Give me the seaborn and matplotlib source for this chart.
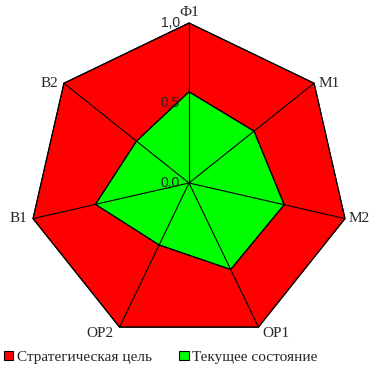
import numpy as np
import pandas as pd
import matplotlib
matplotlib.use("Agg")
import matplotlib.pyplot as plt
import seaborn as sns

# axes of the radar, clockwise from the top
categories = ["Ф1", "М1", "М2", "ОР1", "ОР2", "В1", "В2"]
target_values = [1.0, 1.0, 1.0, 1.0, 1.0, 1.0, 1.0]
current_values = [0.57, 0.52, 0.61, 0.60, 0.43, 0.60, 0.42]
tick_values = [0.0, 0.5, 1.0]
tick_labels = ["0,0", "0,5", "1,0"]
series_names = ["Стратегическая цель", "Текущее состояние"]
series_colors = ["#ff0000", "#00ff00"]

sns.set_style("white")
plt.rcParams["font.family"] = ["Liberation Serif", "DejaVu Serif"]

W, H = 372, 367
fig = plt.figure(figsize=(W / 100, H / 100), dpi=100)
ax = fig.add_axes([0, 0, 1, 1])

# 1 data unit = 160 px, centre of the chart at (189, 183) px from top-left
scale = 160.0
cx, cy = 189.0, 183.0
ax.set_xlim(-cx / scale, (W - cx) / scale)
ax.set_ylim(-(H - cy) / scale, cy / scale)

n = len(categories)
theta = 2 * np.pi * np.arange(n) / n


def to_xy(values):
    r = np.asarray(values, dtype=float)
    return r * np.sin(theta), r * np.cos(theta)


# filled polygons
handles = []
for vals, name, col in zip([target_values, current_values], series_names, series_colors):
    x, y = to_xy(vals)
    h = ax.fill(x, y, facecolor=col, edgecolor="black", linewidth=0.8, label=name, zorder=2)[0]
    handles.append(h)

# spokes
ox, oy = to_xy(target_values)
for xi, yi in zip(ox, oy):
    ax.plot([0, xi], [0, yi], color="black", linewidth=0.8, zorder=3)

# outlines via seaborn
for vals in [target_values, current_values]:
    x, y = to_xy(vals)
    df = pd.DataFrame({"x": np.append(x, x[0]), "y": np.append(y, y[0])})
    sns.lineplot(data=df, x="x", y="y", sort=False, estimator=None,
                 color="black", linewidth=0.8, ax=ax, zorder=4)
ax.set_axis_off()

# category labels
for lab, xi, yi, th in zip(categories, ox, oy, theta):
    s, c = np.sin(th), np.cos(th)
    if abs(s) < 0.1:
        ha, dx = "center", 0
    elif s > 0:
        ha, dx = "left", 4
    else:
        ha, dx = "right", -6
    if c > 0.9:
        va, dy = "bottom", 4
    elif c < -0.8:
        va, dy = "top", 0
    else:
        va, dy = "center", 0
    ax.annotate(lab, (xi, yi), xytext=(dx * 0.72, dy * 0.72), textcoords="offset points",
                ha=ha, va=va, fontsize=11, zorder=5)

# radial tick labels along the top axis
for v, t in zip(tick_values, tick_labels):
    ax.annotate(t, (0, v), xytext=(-9 * 0.72, 0), textcoords="offset points",
                ha="right", va="center", fontsize=10,
                family=["Liberation Sans", "DejaVu Sans"], zorder=5)

leg = ax.legend(handles=handles, loc="lower left", bbox_to_anchor=(4 / W, 3 / H),
                bbox_transform=fig.transFigure, ncol=2, frameon=False, fontsize=11,
                handlelength=0.6, handleheight=0.6, handletextpad=0.25,
                columnspacing=1.8, borderpad=0, borderaxespad=0)
for p in leg.get_patches():
    p.set_linewidth(0.8)

fig.savefig("out.png", dpi=100)
